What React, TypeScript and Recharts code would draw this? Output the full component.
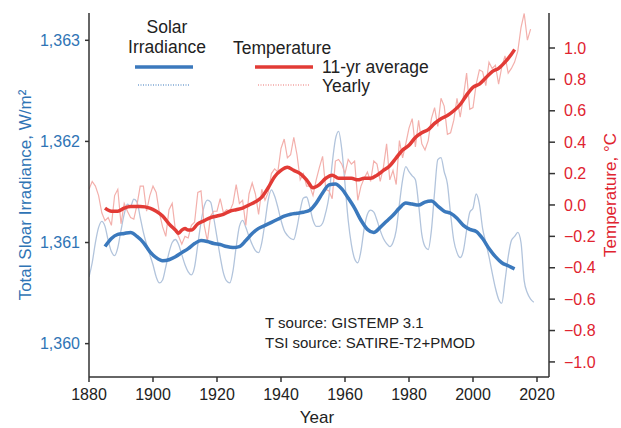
import { LineChart, Line, XAxis, YAxis } from 'recharts';

// yearly series start in 1880, one value per year
const firstYear = 1880;

const solarYearly = [
  1360.66, 1360.8, 1361.0, 1361.15, 1361.21, 1361.16, 1361.02, 1360.91, 1360.87, 1360.95,
  1361.12, 1361.28, 1361.38, 1361.36, 1361.43, 1361.4, 1361.25, 1361.1, 1360.98, 1360.88,
  1360.78, 1360.66, 1360.6, 1360.63, 1360.76, 1360.9, 1361.0, 1361.03, 1360.98, 1360.88,
  1360.78, 1360.71, 1360.68, 1360.76, 1360.98, 1361.2, 1361.36, 1361.42, 1361.4, 1361.24,
  1361.05, 1360.86, 1360.7, 1360.62, 1360.6, 1360.72, 1360.96, 1361.16, 1361.22, 1361.15,
  1361.06, 1360.98, 1360.92, 1360.9, 1361.0, 1361.2, 1361.42, 1361.52, 1361.46, 1361.35,
  1361.22, 1361.12, 1361.07, 1361.04, 1361.03, 1361.15, 1361.32, 1361.44, 1361.45, 1361.35,
  1361.22, 1361.16, 1361.16, 1361.19, 1361.3, 1361.46, 1361.78, 1362.02, 1362.1, 1361.92,
  1361.58, 1361.22, 1360.98, 1360.84, 1360.8, 1360.92, 1361.14, 1361.28, 1361.32, 1361.3,
  1361.22, 1361.12, 1361.04, 1360.99, 1360.96, 1361.0, 1361.12, 1361.38, 1361.62, 1361.75,
  1361.7, 1361.66, 1361.62, 1361.38, 1361.08, 1360.96, 1360.93, 1361.12, 1361.5, 1361.82,
  1361.84, 1361.7, 1361.58, 1361.28, 1361.02, 1360.9, 1360.85, 1360.92, 1361.12, 1361.3,
  1361.34, 1361.48, 1361.38, 1361.14, 1361.0, 1360.86, 1360.7, 1360.55, 1360.44, 1360.4,
  1360.62, 1360.86, 1361.02, 1361.06, 1361.1, 1361.0, 1360.62, 1360.5, 1360.44, 1360.41,
];

const tempYearly = [
  0.1, 0.15, 0.12, 0.06, -0.05, -0.1, -0.08, -0.13, 0.06, 0.1,
  -0.12, 0.01, -0.04, -0.08, -0.09, 0.0, 0.12, 0.12, -0.04, 0.06,
  0.12, 0.08, -0.05, -0.14, -0.2, -0.03, 0.01, -0.16, -0.2, -0.25,
  -0.2, -0.21, -0.13, -0.11, 0.08, 0.09, -0.13, -0.23, -0.07, -0.04,
  -0.04, 0.04, -0.05, -0.03, -0.04, 0.01, 0.13, 0.01, 0.03, -0.13,
  0.07, 0.14, 0.07, -0.06, 0.1, 0.03, 0.08, 0.2, 0.23, 0.21,
  0.36, 0.42, 0.3, 0.32, 0.43, 0.32, 0.16, 0.2, 0.12, 0.12,
  0.06, 0.16, 0.24, 0.31, 0.1, 0.09, 0.04, 0.28, 0.29, 0.26,
  0.2, 0.29, 0.26, 0.28, 0.03, 0.12, 0.17, 0.21, 0.15, 0.28,
  0.26, 0.15, 0.24, 0.39, 0.16, 0.22, 0.13, 0.41, 0.3, 0.39,
  0.49, 0.55, 0.37, 0.54, 0.39, 0.35, 0.41, 0.55, 0.62, 0.5,
  0.68, 0.63, 0.45, 0.46, 0.54, 0.68, 0.56, 0.69, 0.84, 0.61,
  0.62, 0.77, 0.86, 0.85, 0.76, 0.91, 0.87, 0.89, 0.77, 0.88,
  0.95, 0.84, 0.87, 0.91, 0.98, 1.13, 1.22, 1.05, 1.12,
];

// 11-yr averages: [year, value]
const solarAvg = [
  [1885, 1360.96], [1887, 1361.04], [1889, 1361.08], [1891, 1361.09], [1893, 1361.1],
  [1895, 1361.06], [1897, 1361.0], [1899, 1360.91], [1901, 1360.85], [1903, 1360.82],
  [1905, 1360.83], [1907, 1360.86], [1909, 1360.9], [1911, 1360.94], [1913, 1360.99],
  [1915, 1361.02], [1917, 1361.01], [1919, 1360.99], [1921, 1360.98], [1923, 1360.96],
  [1925, 1360.95], [1927, 1360.96], [1929, 1361.02], [1931, 1361.09], [1933, 1361.14],
  [1935, 1361.17], [1937, 1361.2], [1939, 1361.23], [1941, 1361.26], [1943, 1361.28],
  [1945, 1361.29], [1947, 1361.3], [1949, 1361.32], [1951, 1361.39], [1953, 1361.49],
  [1955, 1361.57], [1957, 1361.58], [1959, 1361.53], [1961, 1361.44], [1963, 1361.34],
  [1965, 1361.22], [1967, 1361.13], [1969, 1361.1], [1971, 1361.15], [1973, 1361.21],
  [1975, 1361.27], [1977, 1361.34], [1979, 1361.39], [1981, 1361.38], [1983, 1361.37],
  [1985, 1361.4], [1987, 1361.41], [1989, 1361.36], [1991, 1361.31], [1993, 1361.29],
  [1995, 1361.24], [1997, 1361.17], [1999, 1361.13], [2001, 1361.11], [2003, 1361.04],
  [2005, 1360.94], [2007, 1360.86], [2009, 1360.8], [2011, 1360.77], [2013, 1360.74],
];

const tempAvg = [
  [1885, -0.02], [1887, -0.04], [1889, -0.04], [1891, -0.02], [1893, -0.01],
  [1896, -0.01], [1899, -0.02], [1901, -0.04], [1903, -0.07], [1905, -0.12],
  [1907, -0.16], [1908, -0.18], [1909, -0.16], [1910, -0.15], [1911, -0.16],
  [1912, -0.16], [1914, -0.12], [1916, -0.1], [1918, -0.08], [1920, -0.07],
  [1922, -0.06], [1924, -0.04], [1926, -0.03], [1928, -0.02], [1930, 0.0],
  [1932, 0.02], [1934, 0.05], [1936, 0.11], [1938, 0.18], [1940, 0.22],
  [1942, 0.24], [1944, 0.22], [1946, 0.2], [1948, 0.16], [1950, 0.11],
  [1952, 0.13], [1954, 0.17], [1956, 0.19], [1958, 0.17], [1960, 0.17],
  [1962, 0.17], [1964, 0.16], [1966, 0.17], [1968, 0.17], [1970, 0.19],
  [1972, 0.22], [1974, 0.25], [1976, 0.3], [1978, 0.35], [1980, 0.38],
  [1982, 0.43], [1984, 0.46], [1986, 0.48], [1988, 0.52], [1990, 0.55],
  [1992, 0.57], [1994, 0.6], [1996, 0.64], [1998, 0.7], [2000, 0.75],
  [2002, 0.77], [2004, 0.81], [2006, 0.85], [2008, 0.87], [2010, 0.91],
  [2012, 0.96], [2013, 0.99],
];

const yearTicks = [1880, 1900, 1920, 1940, 1960, 1980, 2000, 2020];
const solarTicks = [1360, 1361, 1362, 1363];
const tempTicks = [-1.0, -0.8, -0.6, -0.4, -0.2, 0.0, 0.2, 0.4, 0.6, 0.8, 1.0];

const BLUE = '#3b79bd';
const BLUE_TEXT = '#2f74b5';
const BLUE_THIN = '#b2c4dc';
const RED = '#e23b36';
const RED_TEXT = '#e0232f';
const RED_THIN = '#f3b0ac';
const INK = '#222';
const AXIS = '#333';
const FONT = '"Liberation Sans", Arial, sans-serif';

const yearlyRows = (vals: number[]) => vals.map((v, i) => ({ year: firstYear + i, v }));
const pairRows = (pairs: number[][]) => pairs.map(([year, v]) => ({ year, v }));

const fmtSolar = (v: number) => v.toLocaleString('en-US');
const fmtTemp = (v: number) => v.toFixed(1).replace('-', '\u2212');

export default function App() {
  return (
    <div style={{ position: 'absolute', left: 0, top: 0, width: 621, height: 428, background: '#fff', fontFamily: FONT }}>
      <LineChart width={621} height={428} margin={{ top: 13, right: 0, bottom: 0, left: 0 }}>
        <XAxis
          dataKey="year"
          type="number"
          domain={[1880, 2023.75]}
          ticks={yearTicks}
          allowDataOverflow
          height={51}
          stroke={AXIS}
          strokeWidth={1.5}
          tickSize={5}
          tickMargin={7}
          tick={{ fill: INK, fontSize: 16, fontFamily: FONT }}
        />
        <XAxis
          xAxisId="top"
          orientation="top"
          type="number"
          domain={[1880, 2023.75]}
          height={0}
          tick={false}
          tickLine={false}
          stroke={AXIS}
          strokeWidth={1.5}
        />
        <YAxis
          yAxisId="left"
          type="number"
          domain={[1359.67, 1363.27]}
          ticks={solarTicks}
          allowDataOverflow
          width={89}
          stroke={AXIS}
          strokeWidth={1.5}
          tickSize={4}
          tickMargin={5}
          tickFormatter={fmtSolar}
          tick={{ fill: BLUE_TEXT, fontSize: 16, fontFamily: FONT }}
        />
        <YAxis
          yAxisId="right"
          orientation="right"
          type="number"
          domain={[-1.096, 1.223]}
          ticks={tempTicks}
          allowDataOverflow
          width={72}
          stroke={AXIS}
          strokeWidth={1.5}
          tickSize={6}
          tickMargin={9}
          tickFormatter={fmtTemp}
          tick={{ fill: RED_TEXT, fontSize: 16, fontFamily: FONT }}
        />
        <Line
          yAxisId="left"
          data={yearlyRows(solarYearly)}
          dataKey="v"
          type="monotone"
          stroke={BLUE_THIN}
          strokeWidth={1.3}
          dot={false}
          activeDot={false}
          isAnimationActive={false}
        />
        <Line
          yAxisId="right"
          data={yearlyRows(tempYearly)}
          dataKey="v"
          type="linear"
          stroke={RED_THIN}
          strokeWidth={1.2}
          dot={false}
          activeDot={false}
          isAnimationActive={false}
        />
        <Line
          yAxisId="left"
          data={pairRows(solarAvg)}
          dataKey="v"
          type="monotone"
          stroke={BLUE}
          strokeWidth={3.5}
          dot={false}
          activeDot={false}
          isAnimationActive={false}
        />
        <Line
          yAxisId="right"
          data={pairRows(tempAvg)}
          dataKey="v"
          type="monotone"
          stroke={RED}
          strokeWidth={3.5}
          dot={false}
          activeDot={false}
          isAnimationActive={false}
        />
      </LineChart>

      <svg
        width={621}
        height={428}
        style={{ position: 'absolute', left: 0, top: 0, pointerEvents: 'none' }}
        fontFamily={FONT}
      >
        {/* legend */}
        <text x={167} y={33} textAnchor="middle" fontSize={17.5} fill={INK}>Solar</text>
        <text x={167} y={53} textAnchor="middle" fontSize={17.5} fill={INK}>Irradiance</text>
        <line x1={135} y1={67} x2={193} y2={67} stroke={BLUE} strokeWidth={3.5} />
        <line x1={138} y1={85} x2={190} y2={85} stroke={BLUE} strokeWidth={1.2} strokeDasharray="1 1.5" />
        <text x={233} y={54} fontSize={17.5} fill={INK}>Temperature</text>
        <line x1={255} y1={67} x2={313} y2={67} stroke={RED} strokeWidth={3.5} />
        <line x1={258} y1={85} x2={310} y2={85} stroke={RED} strokeWidth={1.2} strokeDasharray="1 1.5" strokeOpacity={0.7} />
        <text x={322} y={73} fontSize={17.5} fill={INK}>11-yr average</text>
        <text x={322} y={92} fontSize={17.5} fill={INK}>Yearly</text>

        {/* sources */}
        <text x={265} y={328} fontSize={15} fill={INK}>T source: GISTEMP 3.1</text>
        <text x={265} y={348} fontSize={15} fill={INK}>TSI source: SATIRE-T2+PMOD</text>

        {/* axis titles */}
        <text x={0} y={0} transform="translate(31 195) rotate(-90)" textAnchor="middle" fontSize={17} fill={BLUE_TEXT}>
          Total Sloar Irradiance, W/m²
        </text>
        <text x={0} y={0} transform="translate(616 195) rotate(-90)" textAnchor="middle" fontSize={17} fill={RED_TEXT}>
          Temperature, °C
        </text>
        <text x={317} y={423} textAnchor="middle" fontSize={17} fill={INK}>Year</text>
      </svg>
    </div>
  );
}
